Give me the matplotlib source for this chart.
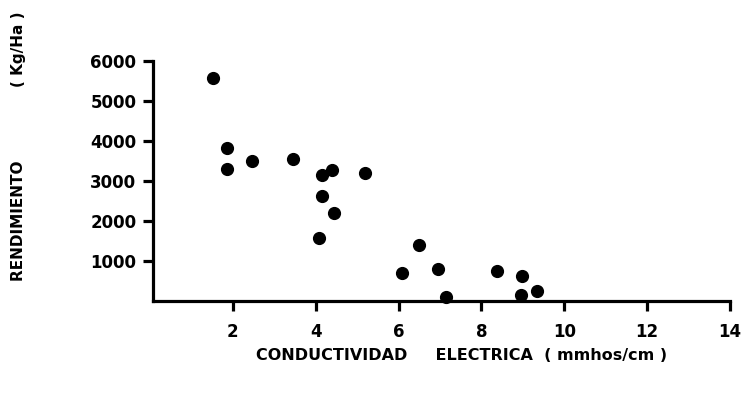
import numpy as np
import matplotlib
matplotlib.use('Agg')
import matplotlib.pyplot as plt

# conductividad electrica (mmhos/cm) vs rendimiento (Kg/Ha)
conductividad = [1.53, 1.86, 1.86, 2.47, 3.45, 4.16, 4.40, 5.18, 4.14, 4.43,
                 4.08, 6.49, 6.09, 6.96, 7.15, 8.38, 8.99, 8.95, 9.35]
rendimiento = [5560, 3830, 3310, 3495, 3540, 3140, 3270, 3190, 2620, 2205,
               1580, 1405, 705, 805, 105, 745, 620, 145, 245]
x_ticks = [2, 4, 6, 8, 10, 12, 14]
y_ticks = [1000, 2000, 3000, 4000, 5000, 6000]

plt.rcParams['font.family'] = 'DejaVu Sans'
plt.rcParams['font.weight'] = 'bold'

fig = plt.figure(figsize=(7.47, 3.95), dpi=100)
ax = fig.add_axes([0.2048, 0.238, 0.7724, 0.608])

ax.scatter(conductividad, rendimiento, s=72, color='black', zorder=3, clip_on=False)

ax.set_xlim(0.07, 14)
ax.set_ylim(0, 6000)
ax.set_xticks(x_ticks)
ax.set_yticks(y_ticks)
ax.set_xticklabels([str(t) for t in x_ticks], fontsize=12, fontweight='bold')
ax.set_yticklabels([str(t) for t in y_ticks], fontsize=12, fontweight='bold')

for side in ['top', 'right']:
    ax.spines[side].set_visible(False)
for side in ['left', 'bottom']:
    ax.spines[side].set_linewidth(2.3)
ax.tick_params(axis='both', length=7, width=2.3, direction='out', color='black')
ax.tick_params(axis='x', pad=9)
ax.tick_params(axis='y', pad=5)

fig.text(462/747, 1 - 355/395, 'CONDUCTIVIDAD     ELECTRICA  ( mmhos/cm )',
         ha='center', va='center', fontsize=11.5, fontweight='bold')
fig.text(19/747, 1 - 146/395, 'RENDIMIENTO              ( Kg/Ha )',
         ha='center', va='center', rotation=90, fontsize=11, fontweight='bold')

fig.savefig('out.png', dpi=100)
